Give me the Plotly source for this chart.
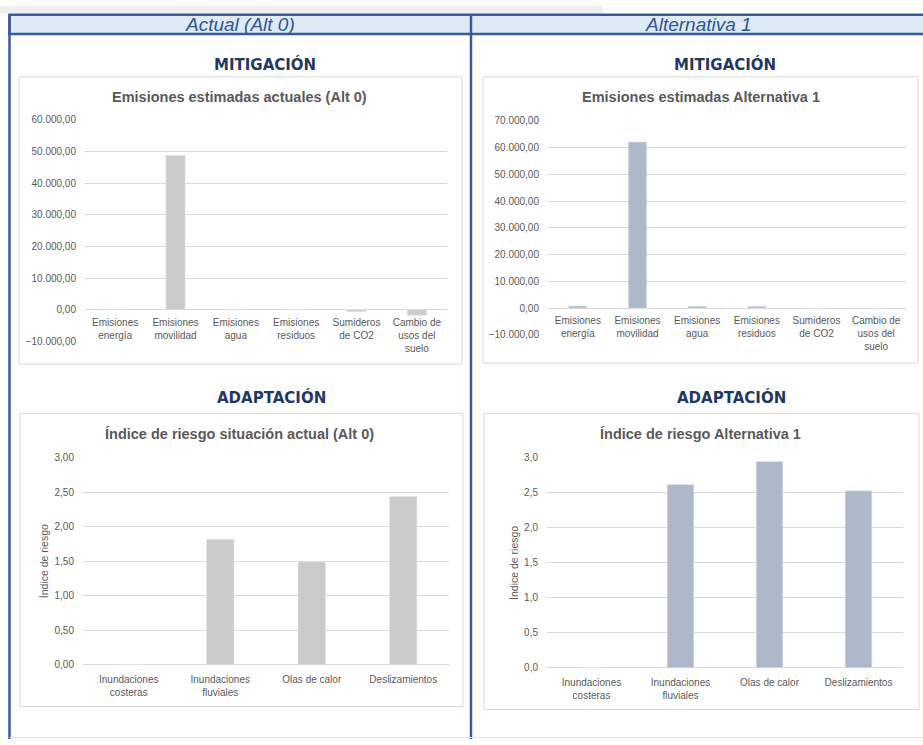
import plotly.graph_objects as go

# ---- data ----
emis_cats = ["Emisiones<br>energía", "Emisiones<br>movilidad", "Emisiones<br>agua",
             "Emisiones<br>residuos", "Sumideros<br>de CO2", "Cambio de<br>usos del<br>suelo"]
emis_alt0 = [0, 48800, 0, 0, -600, -1700]
emis_alt1 = [800, 62100, 700, 700, 0, 0]

riesgo_cats = ["Inundaciones<br>costeras", "Inundaciones<br>fluviales", "Olas de calor", "Deslizamientos"]
riesgo_alt0 = [0, 1.82, 1.49, 2.44]
riesgo_alt1 = [0, 2.62, 2.95, 2.53]

W, H = 923, 745
GRAY_BAR = "#cbcbcb"
BLUE_BAR = "#adb9ca"
TXT = "#595959"
GRID = "#d9d9d9"
NAVY = "#1f3864"
BORDER = "#3b5a98"
FONT = "Liberation Sans, Arial"


def px(x):
    return x / W


def py(y):
    return 1 - y / H


fig = go.Figure()

fig.add_trace(go.Bar(x=emis_cats, y=emis_alt0, marker_color=GRAY_BAR, width=0.32,
                     xaxis="x", yaxis="y"))
fig.add_trace(go.Bar(x=emis_cats, y=emis_alt1, marker_color=BLUE_BAR, width=0.31,
                     xaxis="x2", yaxis="y2"))
fig.add_trace(go.Bar(x=riesgo_cats, y=riesgo_alt0, marker_color=GRAY_BAR, width=0.30,
                     xaxis="x3", yaxis="y3"))
fig.add_trace(go.Bar(x=riesgo_cats, y=riesgo_alt1, marker_color=BLUE_BAR, width=0.30,
                     xaxis="x4", yaxis="y4"))

tickfont = dict(family=FONT, size=10, color=TXT)
ytitle_font = dict(family=FONT, size=10.5, color=TXT)

xcommon = dict(showgrid=False, showline=False, ticks="", tickfont=tickfont,
               tickangle=0, fixedrange=True)
ycommon = dict(showgrid=True, gridcolor=GRID, gridwidth=1, showline=False,
               zeroline=True, zerolinecolor=GRID, zerolinewidth=1,
               tickfont=tickfont, ticklabelstandoff=8, fixedrange=True)

fig.update_layout(
    width=W, height=H,
    margin=dict(l=0, r=0, t=0, b=0),
    paper_bgcolor="white", plot_bgcolor="white",
    showlegend=False,
    separators=",.",
    xaxis=dict(xcommon, domain=[px(85), px(447)], anchor="free", position=py(309),
               ticklabelstandoff=5),
    yaxis=dict(ycommon, domain=[py(341), py(115.7)], range=[-10000, 60000],
               dtick=10000, tickformat=",.2f", anchor="x"),
    xaxis2=dict(xcommon, domain=[px(548), px(906)], anchor="free", position=py(307.3),
                ticklabelstandoff=5),
    yaxis2=dict(ycommon, domain=[py(334.3), py(116.7)], range=[-10000, 70000],
                dtick=10000, tickformat=",.2f", anchor="x2"),
    xaxis3=dict(xcommon, domain=[px(83), px(449)], anchor="y3", ticklabelstandoff=7),
    yaxis3=dict(ycommon, domain=[py(669.3), py(459.3)], range=[0, 3], dtick=0.5,
                tickformat=".2f", anchor="x3",
                title=dict(text="Índice de riesgo", standoff=3, font=ytitle_font)),
    xaxis4=dict(xcommon, domain=[px(547), px(903)], anchor="y4", ticklabelstandoff=7),
    yaxis4=dict(ycommon, domain=[py(672.7), py(459.3)], range=[0, 3], dtick=0.5,
                tickformat=".1f", anchor="x4",
                title=dict(text="Índice de riesgo", standoff=3, font=ytitle_font)),
)

shapes = []
# grey strip on top
shapes.append(dict(type="rect", xref="paper", yref="paper", x0=0, x1=px(603), y0=py(8), y1=1,
                   fillcolor="#f0f0f0", line_width=0, layer="below"))
# header band
shapes.append(dict(type="rect", xref="paper", yref="paper", x0=px(9.5), x1=1.01, y0=py(28.5), y1=py(9),
                   fillcolor="#deebf7", line=dict(color=BORDER, width=2.5), layer="below"))
# left border and divider
shapes.append(dict(type="line", xref="paper", yref="paper", x0=px(9.5), x1=px(9.5), y0=0, y1=py(9),
                   line=dict(color=BORDER, width=2.5)))
shapes.append(dict(type="line", xref="paper", yref="paper", x0=px(471), x1=px(471), y0=0, y1=py(9),
                   line=dict(color=BORDER, width=2.5)))
# faint bottom line
shapes.append(dict(type="line", xref="paper", yref="paper", x0=px(9.5), x1=1, y0=py(743.5), y1=py(743.5),
                   line=dict(color="#d6e2f0", width=1)))
# chart boxes
for x0, x1, y0, y1 in [(19, 462, 72, 364), (483, 918, 72, 363), (20, 463, 414, 712), (484, 919, 414, 715)]:
    shapes.append(dict(type="rect", xref="paper", yref="paper", x0=px(x0), x1=px(x1),
                       y0=py(y1), y1=py(y0), line=dict(color=GRID, width=1), fillcolor="rgba(0,0,0,0)",
                       layer="below"))
fig.update_layout(shapes=shapes)

annotations = []


def note(text, x, y, size, color, family=FONT, bold=True, italic=False):
    t = text
    if bold:
        t = "<b>" + t + "</b>"
    if italic:
        t = "<i>" + t + "</i>"
    annotations.append(dict(text=t, x=px(x), y=py(y), xref="paper", yref="paper",
                            showarrow=False, xanchor="center", yanchor="middle",
                            font=dict(family=family, size=size, color=color)))


note("Actual (Alt 0)", 240, 18.5, 19, "#2f5597", bold=False, italic=True)
note("Alternativa 1", 698, 18.5, 19, "#2f5597", bold=False, italic=True)
note("MITIGACIÓN", 265, 59, 15, NAVY, family="DejaVu Sans")
note("MITIGACIÓN", 725, 59, 15, NAVY, family="DejaVu Sans")
note("ADAPTACIÓN", 271, 398, 15, NAVY, family="DejaVu Sans")
note("ADAPTACIÓN", 731, 398, 15, NAVY, family="DejaVu Sans")
note("Emisiones estimadas actuales (Alt 0)", 240, 92, 14.5, TXT)
note("Emisiones estimadas Alternativa 1", 701, 92, 14.5, TXT)
note("Índice de riesgo situación actual (Alt 0)", 240, 435, 14.5, TXT)
note("Índice de riesgo Alternativa 1", 700, 435, 14.5, TXT)
fig.update_layout(annotations=annotations)

# page body has a default 8px margin; remove it so the figure fills the window
fig.write_html("out.html", config={"displayModeBar": False},
               post_script="document.body.style.margin='0';")
